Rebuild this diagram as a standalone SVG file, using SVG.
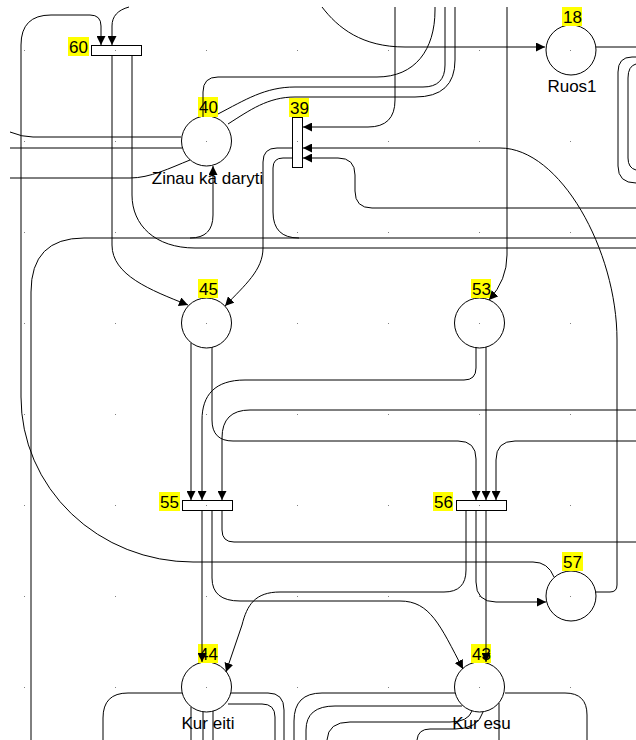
<svg xmlns="http://www.w3.org/2000/svg" width="636" height="740" viewBox="0 0 636 740">
<style>
.c{fill:none;stroke:#000;stroke-width:1}
.pl{fill:#fff;stroke:#000;stroke-width:1}
.tr{fill:#fff;stroke:#000;stroke-width:1}
.hl{fill:#ffff00}
.t{font-family:"Liberation Sans",Arial,sans-serif;font-size:17px;fill:#000}
.m{text-anchor:middle}
</style>
<defs>
<marker id="arr" viewBox="0 0 10 10" refX="10" refY="5" markerWidth="9" markerHeight="9" markerUnits="userSpaceOnUse" orient="auto"><path d="M0,0 L10,5 L0,10 z" fill="#000"/></marker>
<pattern id="grid" x="24" y="50" width="91" height="91" patternUnits="userSpaceOnUse"><rect x="0" y="0" width="1" height="1" fill="#808080"/></pattern>
</defs>
<rect x="0" y="0" width="636" height="740" fill="#fff"/>

<g id="p40"><circle class="pl" cx="206.5" cy="141" r="25"/><rect class="hl" x="198" y="97" width="20" height="20"/><text class="t" x="199" y="113">40</text><text class="t m" x="207.5" y="184">Zinau ka daryti</text></g>
<g id="p18"><circle class="pl" cx="571" cy="50" r="25"/><rect class="hl" x="562" y="7" width="20" height="19"/><text class="t" x="563" y="23">18</text><text class="t m" x="572" y="92">Ruos1</text></g>
<g id="p45"><circle class="pl" cx="206.5" cy="323" r="25"/><rect class="hl" x="198" y="279" width="20" height="19"/><text class="t" x="199" y="295">45</text></g>
<g id="p53"><circle class="pl" cx="479.5" cy="323" r="25"/><rect class="hl" x="471" y="279" width="20" height="19"/><text class="t" x="472" y="295">53</text></g>
<g id="p57"><circle class="pl" cx="571" cy="596" r="25"/><rect class="hl" x="562" y="552" width="21" height="19"/><text class="t" x="563" y="568">57</text></g>
<g id="p44"><circle class="pl" cx="206.5" cy="687" r="25"/><rect class="hl" x="198" y="644" width="20" height="19"/><text class="t" x="199" y="660">44</text><text class="t m" x="208" y="729">Kur eiti</text></g>
<g id="p43"><circle class="pl" cx="479.5" cy="687" r="25"/><rect class="hl" x="471" y="644" width="20" height="19"/><text class="t" x="472" y="660">43</text><text class="t m" x="481.5" y="729">Kur esu</text></g>
<g id="t60"><rect class="tr" x="91.5" y="45.5" width="50" height="10"/><rect class="hl" x="68" y="37" width="21" height="19"/><text class="t" x="69" y="53">60</text></g>
<g id="t39"><rect class="tr" x="292.5" y="117.5" width="10" height="50"/><rect class="hl" x="289" y="98" width="20" height="19"/><text class="t" x="290" y="114">39</text></g>
<g id="t55"><rect class="tr" x="182.5" y="500.5" width="50" height="10"/><rect class="hl" x="159" y="492" width="21" height="19"/><text class="t" x="160" y="508">55</text></g>
<g id="t56"><rect class="tr" x="456.5" y="500.5" width="50" height="10"/><rect class="hl" x="433" y="492" width="20" height="19"/><text class="t" x="434" y="508">56</text></g>

<g id="connectors">
<path class="c" marker-end="url(#arr)" d="M554,577 Q548,562 533,562 H193 A172,165 0 0 1 21,397 V45 Q21,15 51,15 H90 Q101,15 101,26 V45"/>
<path class="c" marker-end="url(#arr)" d="M129,7 C118,10 112,16 112,26 V45"/>
<path class="c" marker-end="url(#arr)" d="M112,56 V245 C112,275 150,290 188,305"/>
<path class="c" d="M132,56 V195 C132,225 155,248 195,248 H636"/>
<path class="c" d="M181,137 H33 Q22,137 10,132"/>
<path class="c" d="M10,148 H182"/>
<path class="c" d="M190,160 C170,168 150,178 130,178 H10"/>
<path class="c" marker-end="url(#arr)" d="M31,740 V292 Q31,238 84,238 H190 Q213,238 213,215 V166"/>
<path class="c" d="M190,238 H299"/>
<path class="c" d="M203,117 V92 Q203,77 218,77 H377 C415,77 435,50 435,10 V7"/>
<path class="c" d="M218,114 C245,100 265,87 295,87 H423 Q445,87 445,65 V7"/>
<path class="c" d="M228,124 C250,110 268,97 295,97 H415 Q455,97 455,60 V7"/>
<path class="c" marker-end="url(#arr)" d="M395,7 V100 Q395,127 368,127 H303"/>
<path class="c" marker-end="url(#arr)" d="M595,592 H610 Q617,592 617,585 V340 C617,250 560,148 500,148 H303"/>
<path class="c" marker-end="url(#arr)" d="M636,208 H372 Q355,208 355,191 V175 Q355,158 338,158 H303"/>
<path class="c" marker-end="url(#arr)" d="M292,148 H277 Q263,148 263,162 V248 C263,270 245,285 225,306"/>
<path class="c" d="M292,158 H283 Q273,158 273,168 V212 Q273,238 299,238 H636"/>
<path class="c" marker-end="url(#arr)" d="M322,7 C338,28 362,47 405,47 H545"/>
<path class="c" d="M596,47 H636"/>
<path class="c" d="M636,57 H632 Q618,57 618,72 V166 Q618,183 636,183"/>
<path class="c" d="M636,64 Q628,66 628,78 V158 Q628,168 636,170"/>
<path class="c" marker-end="url(#arr)" d="M507,7 V255 Q507,280 489,300"/>
<path class="c" marker-end="url(#arr)" d="M476,347 V368 Q476,380 464,380 H245 C215,380 202,395 202,420 V500"/>
<path class="c" marker-end="url(#arr)" d="M486,347 V500"/>
<path class="c" marker-end="url(#arr)" d="M191,343 V500"/>
<path class="c" marker-end="url(#arr)" d="M212,347 V420 Q212,441 233,441 H458 Q476,441 476,459 V500"/>
<path class="c" marker-end="url(#arr)" d="M636,410 H250 Q222,410 222,438 V500"/>
<path class="c" marker-end="url(#arr)" d="M636,441 H515 Q496,441 496,460 V500"/>
<path class="c" marker-end="url(#arr)" d="M202,511 V662"/>
<path class="c" marker-end="url(#arr)" d="M212,511 V578 Q212,601 240,601 H400 C430,601 440,625 463,669"/>
<path class="c" d="M222,511 V530 Q222,542 234,542 H636"/>
<path class="c" marker-end="url(#arr)" d="M466,511 V570 Q466,592 444,592 H280 C255,592 247,605 242,625 L226,672"/>
<path class="c" marker-end="url(#arr)" d="M476,511 V582 Q476,602 496,602 H546"/>
<path class="c" marker-end="url(#arr)" d="M486,511 V662"/>
<path class="c" d="M182,693 H128 Q103,693 103,718 V740"/>
<path class="c" d="M231,693 H268 Q284,693 284,710 V740"/>
<path class="c" d="M228,704 H262 Q275,704 275,717 V740"/>
<path class="c" d="M191,707 V740 M203,712 V740 M213,711 V740"/>
<path class="c" d="M455,693 H322 Q294,693 294,721 V740"/>
<path class="c" d="M462,706 H335 Q306,706 306,730 V740"/>
<path class="c" d="M472,711 Q468,722 450,722 H350 Q328,722 327,740"/>
<path class="c" d="M483,712 Q478,729 455,729 H430 Q418,729 417,740"/>
<path class="c" d="M499,703 V740"/>
<path class="c" d="M505,693 H565 Q587,693 587,715 V740"/>
</g>
<rect x="0" y="0" width="636" height="740" fill="url(#grid)"/>
</svg>
